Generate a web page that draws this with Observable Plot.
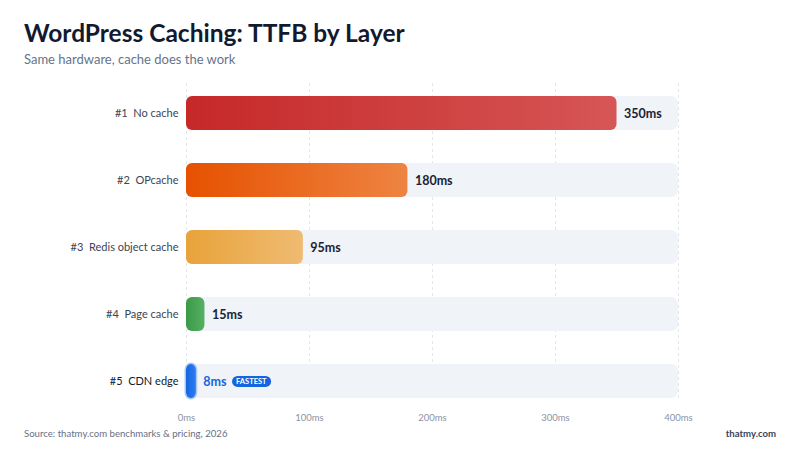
<!DOCTYPE html>
<html>
<head>
<meta charset="utf-8">
<script src="https://cdn.jsdelivr.net/npm/d3@7"></script>
<script src="https://cdn.jsdelivr.net/npm/@observablehq/plot@0.6"></script>
<style>
  html, body { margin: 0; padding: 0; background: #fff; }
  body { width: 800px; height: 450px; position: relative; overflow: hidden; font-family: Lato, "Noto Sans", sans-serif; }
  #title { position: absolute; left: 24px; top: 18px; font-size: 24.5px; font-weight: 700; color: #111a2e; }
  #subtitle { position: absolute; left: 24px; top: 51px; font-size: 13px; color: #64748b; }
  #chart { position: absolute; left: 0; top: 75px; }
  #source { position: absolute; left: 24px; top: 428px; font-size: 9.6px; color: #667085; }
  #brand { position: absolute; right: 24px; top: 428px; font-size: 9.6px; font-weight: 700; color: #3a4556; }
</style>
</head>
<body>
<div id="title">WordPress Caching: TTFB by Layer</div>
<div id="subtitle">Same hardware, cache does the work</div>
<div id="chart"></div>
<div id="source">Source: thatmy.com benchmarks &amp; pricing, 2026</div>
<div id="brand">thatmy.com</div>
<script>
const ranks = ["#1", "#2", "#3", "#4", "#5"];
const layers = ["No cache", "OPcache", "Redis object cache", "Page cache", "CDN edge"];
const ttfb = [350, 180, 95, 15, 8];
const colorsFrom = ["#c62828", "#e65100", "#e8a33a", "#3a9a48", "#1565e0"];
const colorsTo = ["#d65656", "#ee8442", "#efbb72", "#56b062", "#2f7cf0"];
const xTicks = [0, 100, 200, 300, 400];
const xMax = 400;

const data = layers.map((name, i) => ({
  key: ranks[i] + "  " + name,
  name, rank: ranks[i], value: ttfb[i], i,
  grad: `url(#grad${i})`,
  fastest: i === layers.length - 1
}));
const keys = data.map(d => d.key);
const font = "Lato, 'Noto Sans', sans-serif";

const chart = Plot.plot({
  width: 800,
  height: 355,
  marginLeft: 186,
  marginRight: 122,
  marginTop: 8,
  marginBottom: 30,
  style: { fontFamily: font, background: "transparent" },
  x: { domain: [0, xMax], ticks: xTicks, tickFormat: d => d + "ms", label: null },
  y: { domain: keys, range: [20, 323], paddingInner: 0.5, paddingOuter: 0, axis: null },
  color: { type: "identity" },
  marks: [
    Plot.gridX(xTicks, { stroke: "#e3e6eb", strokeOpacity: 1, strokeDasharray: "3,3", strokeWidth: 1 }),
    Plot.axisX({ ticks: xTicks, tickFormat: d => d + "ms", tickSize: 0, tickPadding: 14, fontSize: 9.5, fill: "#8a93a3", label: null }),
    Plot.barX(data, { y: "key", x1: 0, x2: () => xMax, fill: "#f0f3f7", rx: 7 }),
    Plot.barX(data.filter(d => d.fastest), { y: "key", x: "value", fill: "none", stroke: "#a9c9f5", strokeWidth: 3, rx: 6 }),
    Plot.barX(data, { y: "key", x: "value", fill: "grad", rx: 6 }),
    Plot.text(data, { y: "key", x: 0, text: "key", dx: -8, textAnchor: "end", fontSize: 11,
      fill: d => d.fastest ? "#111a2e" : "#3a4556", fontWeight: d => d.fastest ? 700 : 400 }),
    Plot.text(data, { y: "key", x: "value", text: d => d.value + "ms", dx: 7, textAnchor: "start",
      fontSize: 12.5, fontWeight: 700, fill: d => d.fastest ? "#1565e0" : "#1a2235" }),
    Plot.text(data.filter(d => d.fastest), { y: "key", x: "value", text: () => "FASTEST", dx: 55, textAnchor: "middle",
      fontSize: 7.5, fontWeight: 700, fill: "#ffffff", className: "pill" })
  ]
});

// gradients
const svg = d3.select(chart);
const defs = svg.insert("defs", ":first-child");
data.forEach((d, i) => {
  const g = defs.append("linearGradient").attr("id", `grad${i}`).attr("x1", 0).attr("x2", 1).attr("y1", 0).attr("y2", 0);
  g.append("stop").attr("offset", "0%").attr("stop-color", colorsFrom[i]);
  g.append("stop").attr("offset", "100%").attr("stop-color", colorsTo[i]);
});
document.getElementById("chart").appendChild(chart);

// pill background behind FASTEST label
svg.selectAll(".pill text").each(function () {
  const b = this.getBBox();
  const t = this.getAttribute("transform");
  const r = d3.select(this.parentNode).insert("rect", () => this)
    .attr("x", b.x - 4).attr("y", b.y - 1)
    .attr("width", b.width + 8).attr("height", b.height + 2)
    .attr("rx", (b.height + 2) / 2)
    .attr("fill", "#1565e0");
  if (t) r.attr("transform", t);
});
</script>
</body>
</html>
